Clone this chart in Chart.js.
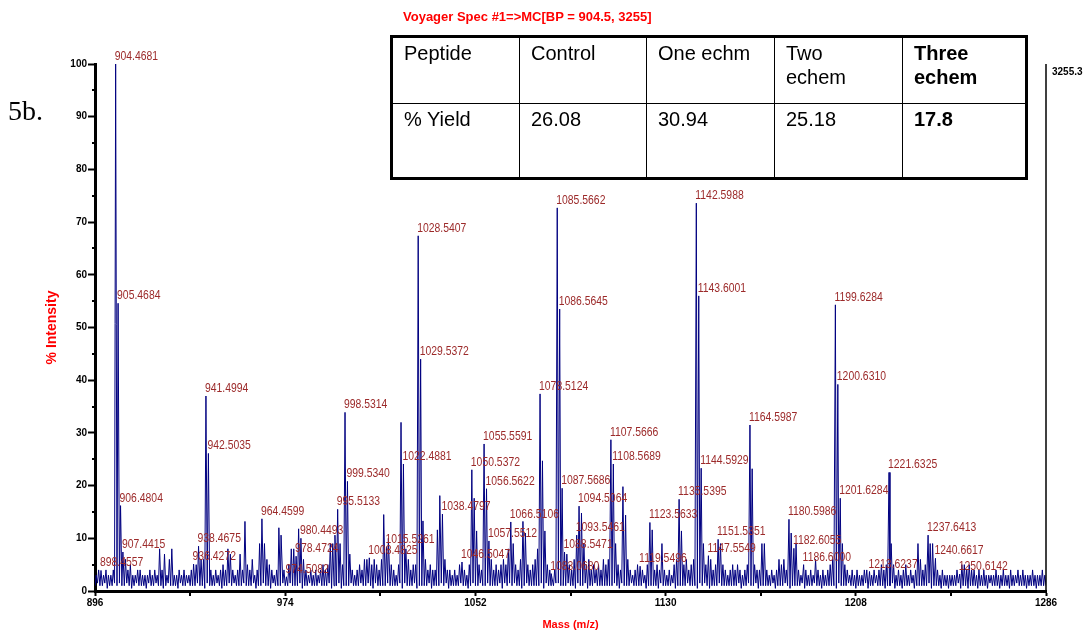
<!DOCTYPE html>
<html>
<head>
<meta charset="utf-8">
<script src="https://cdn.jsdelivr.net/npm/chart.js@4.4.1/dist/chart.umd.min.js"></script>
<style>
  body { margin: 0; background: #fff; }
  #wrap { position: relative; width: 1089px; height: 636px; }
  #tag { position: absolute; left: 8px; top: 97px; font: 28px "Liberation Serif", "Times New Roman", serif; line-height: 28px; }
  #specTitle { position: absolute; left: 403px; top: 9px; color: #ff0000; font: bold 13px "Liberation Sans", Arial, sans-serif; line-height: 16px; white-space: nowrap; }
  #yieldTable { position: absolute; left: 390px; top: 35px; border-collapse: collapse; table-layout: fixed;
    border: 3px solid #000; font: 20px "Liberation Sans", Arial, sans-serif; color: #000; }
  #yieldTable td { border: 1.5px solid #000; vertical-align: top; padding: 3px 10px 0 11px; line-height: 24px; }
  #yieldTable td.b { font-weight: bold; }
</style>
</head>
<body>
<div id="wrap">
  <canvas id="spectrumChart" width="1089" height="636"></canvas>
  <div id="tag">5b.</div>
  <div id="specTitle">Voyager Spec #1=&gt;MC[BP = 904.5, 3255]</div>
  <table id="yieldTable"></table>
</div>
<script>
// ---- data ----
const massStart = 896;            // first nominal mass of the noise strings
const xTickValues = [896, 974, 1052, 1130, 1208, 1286];
const xMinorTicks = [935, 1013, 1091, 1169, 1247];
const yTickValues = [0, 10, 20, 30, 40, 50, 60, 70, 80, 90, 100];
const yMinorTicks = [5, 15, 25, 35, 45, 55, 65, 75, 85, 95];

// labelled peaks (m/z as printed, % intensity)
const labelText = ['904.4681', '905.4684', '906.4804', '907.4415', '898.4557', '936.4272', '938.4675',
  '941.4994', '942.5035', '964.4599', '974.5082', '978.4724', '980.4493', '995.5133', '998.5314',
  '999.5340', '1008.4825', '1015.5261', '1022.4881', '1028.5407', '1029.5372', '1038.4797',
  '1046.5047', '1050.5372', '1055.5591', '1056.5622', '1057.5512', '1066.5106', '1078.5124',
  '1083.0680', '1085.5662', '1086.5645', '1087.5686', '1088.5471', '1093.5461', '1094.5064',
  '1107.5666', '1108.5689', '1119.5496', '1123.5633', '1135.5395', '1142.5988', '1143.6001',
  '1144.5929', '1147.5549', '1151.5351', '1164.5987', '1180.5986', '1182.6055', '1186.6000',
  '1199.6284', '1200.6310', '1201.6284', '1213.6237', '1221.6325', '1237.6413', '1240.6617',
  '1250.6142'];
const labelIntensity = [100, 54.6, 16.2, 7.4, 3.9, 5.1, 8.5,
  37.0, 26.1, 13.7, 2.7, 6.6, 10.0, 15.5, 33.9,
  20.8, 6.3, 8.4, 24.1, 67.4, 44.0, 14.6,
  5.5, 23.0, 27.9, 19.4, 9.5, 13.1, 37.4,
  3.3, 72.7, 53.5, 19.5, 7.4, 10.6, 16.1,
  28.7, 24.1, 4.7, 13.0, 17.4, 73.6, 56.0,
  23.3, 6.7, 9.8, 31.5, 13.6, 8.1, 5.0,
  54.3, 39.2, 17.6, 3.7, 22.5, 10.6, 6.2,
  3.2];

// other peaks that stand above the noise (no label)
const otherPeakMz = [957.5, 971.4, 972.3, 979.5, 994.4, 1014.4, 1016.3, 1021.5, 1030.5, 1036.4,
  1037.4, 1051.5, 1052.5, 1071.5, 1072.5, 1079.5, 1080.5, 1095.5, 1112.5, 1113.6, 1124.5,
  1136.5, 1165.5, 1181.5];
const otherPeakIntensity = [13.2, 12.0, 10.6, 11.8, 10.6, 14.5, 10.0, 32.0, 13.3, 11.6,
  18.1, 17.6, 11.4, 13.2, 11.0, 24.7, 11.4, 14.8, 19.8, 14.4, 11.6,
  11.4, 23.2, 11.0];

// noise spike height (%) for each nominal mass from 896 up
const spikeLevels = [
  '3443433455', '5764533443', '3343438473', '6833434334', '7596699434',
  '3454874347', '4954634999', '6543499445', '8889964343', '4345459999',
  '9599743454', '6665654699', '9543599864', '5599964544', '9996443435',
  '6435999549', '9964545658', '9954699545', '6899954449', '9997546999',
  '9564545465', '6999549964', '3455435994', '5494343569', '9564569999',
  '5764599543', '4545434599', '5449943434', '6564999943', '5434364343',
  '4569999543', '4343344534', '3454599534', '3453434964', '5999943433',
  '3334955454', '4343433334', '3343343343', '4333433343'].join('');

// noise floor between spikes, in half-percent steps
const floorLevels = [
  '2322312232', '3223212322', '2132232212', '3222132232', '2232213222',
  '3212232322', '2322231223', '2213222322', '3222312232', '2232223122',
  '3122232223', '2232132222', '3222231322', '2312222312', '2232312222',
  '3221232232', '2322223132', '3232212322', '2223132223', '3222322132',
  '2312232222', '2223213222', '3222231222', '2132222312', '2223222132',
  '3212223222', '2222312232', '2312222231', '2223212222', '3122232212',
  '2222132223', '2212223122', '3222122312', '2122231222', '2231222122',
  '1222312212', '2212221322', '2122212232', '2212221222'].join('');

// yield table
const tableHeaders = ['Peptide', 'Control', 'One echm', 'Two<br>echem', 'Three<br>echem'];
const tableYields = ['% Yield', '26.08', '30.94', '25.18', '17.8'];
const colWidths = [128, 127, 128, 128, 124];

// ---- build the table ----
function buildTable() {
  const t = document.getElementById('yieldTable');
  let html = '<colgroup>' + colWidths.map(w => `<col style="width:${w}px">`).join('') + '</colgroup>';
  html += '<tr style="height:67px">' + tableHeaders.map((h, i) => `<td${i === 4 ? ' class="b"' : ''}>${h}</td>`).join('') + '</tr>';
  html += '<tr style="height:75px">' + tableYields.map((v, i) => `<td${i === 4 ? ' class="b"' : ''}>${v}</td>`).join('') + '</tr>';
  t.innerHTML = html;
}

// ---- build the trace from the peaks and the noise strings ----
function buildTrace() {
  const peakMz = labelText.map(Number).concat(otherPeakMz);
  const peakY = labelIntensity.concat(otherPeakIntensity);
  const pts = [];
  for (let i = 0; i < spikeLevels.length; i++) {
    const m = massStart + i;
    pts.push({ x: m + 0.02, y: Number(floorLevels[i]) / 2 });
    const k = peakMz.findIndex(p => Math.floor(p) === m);
    if (k >= 0) pts.push({ x: peakMz[k], y: peakY[k] });
    else pts.push({ x: m + 0.5, y: Number(spikeLevels[i]) });
  }
  pts.push({ x: 1286, y: 1 });
  return pts.sort((a, b) => a.x - b.x);
}

// labels, minor ticks and the right hand axis
const spectrumDecor = {
  id: 'spectrumDecor',
  afterDraw(chart) {
    const { ctx, chartArea, scales: { x, y } } = chart;
    ctx.save();
    // peak labels
    ctx.fillStyle = '#9c2a2a';
    ctx.font = '13px "Liberation Sans", Arial, sans-serif';
    ctx.textBaseline = 'alphabetic';
    labelText.forEach((txt, i) => {
      const px = x.getPixelForValue(Number(txt));
      const py = y.getPixelForValue(labelIntensity[i]);
      ctx.save();
      ctx.translate(px - 1, py - 4);
      ctx.scale(0.8, 1);
      ctx.fillText(txt, 0, 0);
      ctx.restore();
    });
    // minor ticks
    ctx.strokeStyle = '#000';
    ctx.lineWidth = 2;
    ctx.beginPath();
    yMinorTicks.forEach(v => {
      const py = Math.round(y.getPixelForValue(v));
      ctx.moveTo(chartArea.left - 3, py);
      ctx.lineTo(chartArea.left + 2, py);
    });
    xMinorTicks.forEach(v => {
      const px = Math.round(x.getPixelForValue(v));
      ctx.moveTo(px, chartArea.bottom);
      ctx.lineTo(px, chartArea.bottom + 5);
    });
    ctx.stroke();
    // right axis
    ctx.lineWidth = 1.5;
    ctx.beginPath();
    ctx.moveTo(chartArea.right, chartArea.top);
    ctx.lineTo(chartArea.right, chartArea.bottom);
    ctx.stroke();
    ctx.fillStyle = '#000';
    ctx.font = 'bold 10px "Liberation Sans", Arial, sans-serif';
    ctx.textBaseline = 'middle';
    ctx.fillText('3255.3', chartArea.right + 6, chartArea.top + 8);
    ctx.restore();
  }
};

buildTable();

const ctx = document.getElementById('spectrumChart').getContext('2d');
const chart = new Chart(ctx, {
  type: 'line',
  data: {
    datasets: [{
      data: buildTrace(),
      borderColor: '#000080',
      borderWidth: 1,
      pointRadius: 0,
      tension: 0,
      fill: false
    }]
  },
  options: {
    responsive: false,
    animation: false,
    events: [],
    layout: { padding: { left: 40, right: 43, top: 64, bottom: 0 } },
    plugins: { legend: { display: false }, tooltip: { enabled: false } },
    scales: {
      x: {
        type: 'linear',
        min: 896,
        max: 1286,
        afterBuildTicks: s => { s.ticks = xTickValues.map(v => ({ value: v })); },
        afterFit: s => { s.height = 45; },
        border: { color: '#000', width: 3 },
        grid: { drawOnChartArea: false, drawTicks: true, tickLength: 5, tickColor: '#000', tickWidth: 2 },
        ticks: { color: '#000', padding: 1, maxRotation: 0, autoSkip: false,
          callback: v => String(v),
          font: { family: '"Liberation Sans", Arial, sans-serif', size: 10, weight: 'bold' } },
        title: { display: true, text: 'Mass (m/z)', color: '#ff0000', padding: { top: 2, bottom: 4 },
          font: { family: '"Liberation Sans", Arial, sans-serif', size: 11, weight: 'bold' } }
      },
      y: {
        min: 0,
        max: 100,
        afterBuildTicks: s => { s.ticks = yTickValues.map(v => ({ value: v })); },
        afterFit: s => { s.width = 55; },
        border: { color: '#000', width: 3 },
        grid: { drawOnChartArea: false, drawTicks: true, tickLength: 7, tickColor: '#000', tickWidth: 2 },
        ticks: { color: '#000', padding: 1, autoSkip: false,
          callback: v => String(v),
          font: { family: '"Liberation Sans", Arial, sans-serif', size: 10, weight: 'bold' } },
        title: { display: true, text: '% Intensity', color: '#ff0000', padding: { top: 4, bottom: 4 },
          font: { family: '"Liberation Sans", Arial, sans-serif', size: 14, weight: 'bold' } }
      }
    }
  },
  plugins: [spectrumDecor]
});
</script>
</body>
</html>
